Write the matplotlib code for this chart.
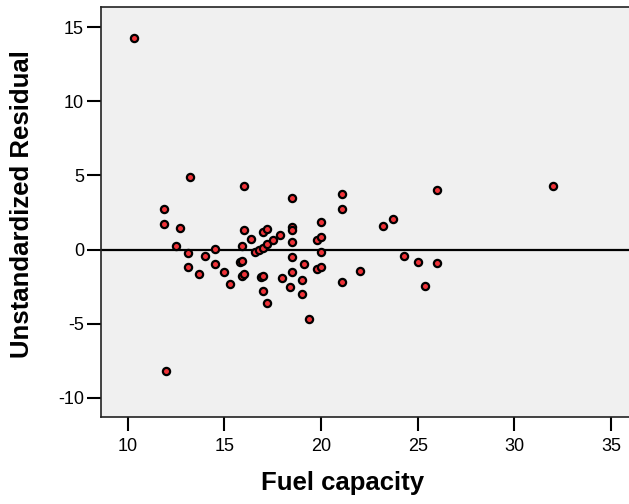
import matplotlib
matplotlib.use("Agg")
import matplotlib.pyplot as plt

plt.rcParams['font.family'] = ['Liberation Sans', 'DejaVu Sans']
plt.rcParams['axes.unicode_minus'] = False

# residuals vs fuel capacity
fuel_capacity = [
    10.3, 12.0,
    13.2, 16.0, 11.9, 11.9, 12.7, 12.5, 13.1, 13.1, 13.7, 14.0,
    14.5, 14.5, 15.0, 15.3, 16.0, 15.9, 15.8, 15.9, 15.9, 16.0,
    16.4, 16.6, 16.8, 17.0, 17.0, 17.2, 17.2, 17.5, 17.9, 16.9,
    17.0, 17.0, 17.2, 18.0, 18.5, 18.5, 18.5, 18.5, 18.5, 18.5,
    18.4, 19.0, 19.1, 19.0, 19.4, 19.8, 20.0, 20.0, 20.0, 19.8,
    20.0, 21.1, 21.1, 21.1, 22.0, 23.2, 23.7, 24.3, 25.0, 25.4,
    26.0, 26.0, 32.0,
]
residuals = [
    14.30, -8.17,
    4.88, 4.31, 2.72, 1.75, 1.44, 0.26, -0.21, -1.19, -1.67, -0.43,
    0.02, -0.99, -1.53, -2.30, 1.32, 0.24, -0.86, -0.77, -1.76, -1.67,
    0.69, -0.18, -0.03, 0.13, 1.21, 1.37, 0.38, 0.63, 0.99, -1.87,
    -1.78, -2.79, -3.63, -1.90, 3.50, 1.52, 1.32, 0.51, -0.48, -1.49,
    -2.54, -2.03, -0.95, -3.02, -4.68, 0.65, 0.83, 1.84, -0.18, -1.33,
    -1.15, 3.77, 2.76, -2.21, -1.42, 1.61, 2.04, -0.43, -0.82, -2.44,
    4.04, -0.92, 4.31,
]
x_ticks = [10, 15, 20, 25, 30, 35]
y_ticks = [-10, -5, 0, 5, 10, 15]

fig = plt.figure(figsize=(6.29, 5.04), dpi=100)
ax = fig.add_axes([0.160, 0.172, 0.840, 0.8135])
ax.set_facecolor('#f0f0f0')

ax.axhline(0, color='black', lw=1.6, zorder=2)
ax.plot(fuel_capacity, residuals, 'o', ms=5.2, mfc='#ee3338', mec='black',
        mew=1.6, zorder=3, clip_on=False)

ax.set_xlim(8.6, 35.93)
ax.set_ylim(-11.32, 16.35)
ax.set_xticks(x_ticks)
ax.set_yticks(y_ticks)
ax.tick_params(axis='both', length=10, width=1.5, labelsize=13, color='black')
ax.tick_params(axis='x', pad=5)
ax.tick_params(axis='y', pad=2)

for side in ['left', 'bottom', 'top']:
    ax.spines[side].set_linewidth(1.2)
    ax.spines[side].set_color('#222222')
ax.spines['right'].set_visible(False)

# axis titles placed where they sit in the original
fig.text(343 / 629, 1 - 483 / 504, 'Fuel capacity', fontsize=18.5,
         fontweight='bold', ha='center', va='center')
fig.text(22 / 629, 1 - 204 / 504, 'Unstandardized Residual', fontsize=18.5,
         fontweight='bold', rotation=90, ha='center', va='center')

fig.savefig('out.png', dpi=100)
